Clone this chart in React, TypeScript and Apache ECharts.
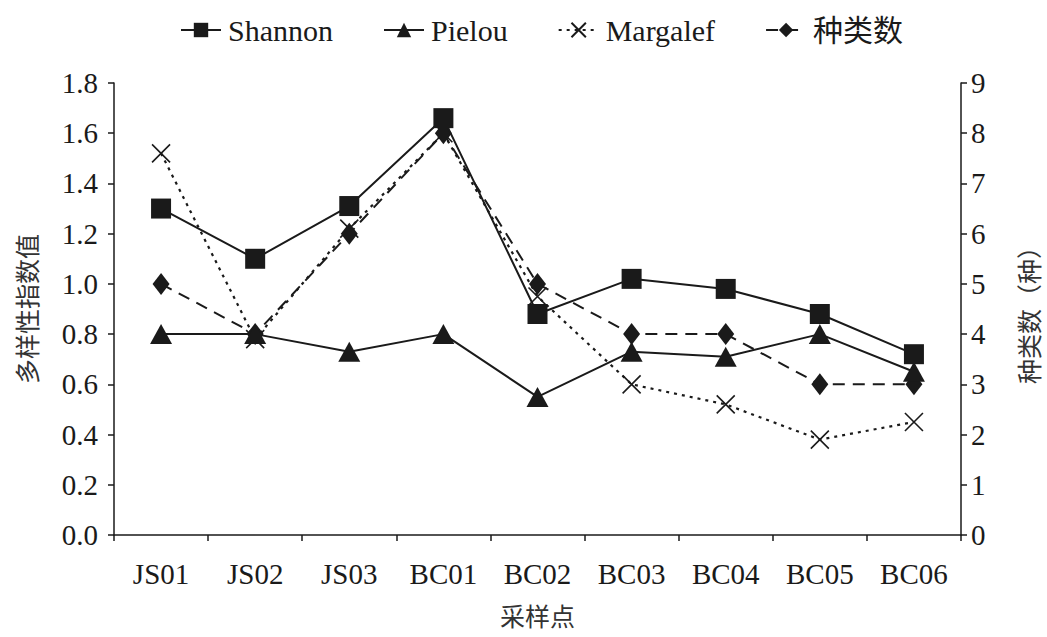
import React, { useEffect, useRef } from "react";
import * as echarts from "echarts";

const categories = ["JS01", "JS02", "JS03", "BC01", "BC02", "BC03", "BC04", "BC05", "BC06"];
const shannon = [1.3, 1.1, 1.31, 1.66, 0.88, 1.02, 0.98, 0.88, 0.72];
const pielou = [0.8, 0.8, 0.73, 0.8, 0.55, 0.73, 0.71, 0.8, 0.65];
const margalef = [1.52, 0.78, 1.22, 1.6, 0.95, 0.6, 0.52, 0.38, 0.45];
const species = [5, 4, 6, 8, 5, 4, 4, 3, 3];

const FONT = "'Liberation Serif', 'Noto Sans CJK SC', serif";
const INK = "#1a1a1a";

export default function App() {
  const ref = useRef<HTMLDivElement>(null);
  useEffect(() => {
    if (!ref.current) return;
    const chart = echarts.init(ref.current, undefined, { renderer: "svg" });
    const axisCommon = {
      axisLine: { show: true, lineStyle: { color: INK, width: 1.5 } },
      axisTick: { show: true, inside: false, length: 6, lineStyle: { color: INK, width: 1.5 } },
      splitLine: { show: false },
    };
    chart.setOption({
      animation: false,
      backgroundColor: "#ffffff",
      textStyle: { fontFamily: FONT, color: INK },
      legend: {
        top: 10,
        left: 175,
        itemWidth: 40,
        itemHeight: 18,
        itemGap: 50,
        textStyle: { fontFamily: FONT, fontSize: 30, color: INK, padding: [0, 0, 0, 2] },
        data: ["Shannon", "Pielou", "Margalef", "种类数"],
      },
      grid: {
        left: 114,
        right: 86,
        top: 83,
        bottom: 102,
        containLabel: false,
        outerBoundsMode: "none",
      },
      xAxis: {
        type: "category",
        data: categories,
        boundaryGap: true,
        ...axisCommon,
        axisTick: { show: true, alignWithLabel: false, length: 6, lineStyle: { color: INK, width: 1.5 } },
        axisLabel: { fontFamily: FONT, fontSize: 29, color: INK, margin: 24 },
        name: "采样点",
        nameLocation: "middle",
        nameGap: 70,
        nameTextStyle: { fontFamily: FONT, fontSize: 25, color: "#333" },
      },
      yAxis: [
        {
          type: "value",
          min: 0,
          max: 1.8,
          interval: 0.2,
          position: "left",
          ...axisCommon,
          axisLabel: {
            fontFamily: FONT,
            fontSize: 29,
            color: INK,
            margin: 16,
            formatter: (v: number) => v.toFixed(1),
          },
          name: "多样性指数值",
          nameLocation: "middle",
          nameGap: 73,
          nameRotate: 90,
          nameTextStyle: { fontFamily: FONT, fontSize: 25, color: "#333" },
        },
        {
          type: "value",
          min: 0,
          max: 9,
          interval: 1,
          position: "right",
          ...axisCommon,
          axisLabel: { fontFamily: FONT, fontSize: 29, color: INK, margin: 10 },
          name: "种类数（种）",
          nameLocation: "middle",
          nameGap: 57,
          nameRotate: 90,
          nameTextStyle: { fontFamily: FONT, fontSize: 25, color: "#333" },
        },
      ],
      series: [
        {
          name: "Margalef",
          type: "line",
          yAxisIndex: 0,
          data: margalef,
          symbol: "path://M0,0L10,10M10,0L0,10",
          symbolSize: 18,
          lineStyle: { color: INK, width: 2.2, type: [3, 5] },
          itemStyle: { color: "rgba(0,0,0,0)", borderColor: INK, borderWidth: 1.6 },
          z: 2,
        },
        {
          name: "种类数",
          type: "line",
          yAxisIndex: 1,
          data: species,
          symbol: "diamond",
          symbolSize: [17, 22],
          lineStyle: { color: INK, width: 2, type: [12, 8] },
          itemStyle: { color: INK },
          z: 3,
        },
        {
          name: "Pielou",
          type: "line",
          yAxisIndex: 0,
          data: pielou,
          symbol: "triangle",
          symbolSize: [22, 20],
          lineStyle: { color: INK, width: 2 },
          itemStyle: { color: INK },
          z: 4,
        },
        {
          name: "Shannon",
          type: "line",
          yAxisIndex: 0,
          data: shannon,
          symbol: "rect",
          symbolSize: 20,
          lineStyle: { color: INK, width: 2 },
          itemStyle: { color: INK },
          z: 5,
        },
      ],
    });
    return () => chart.dispose();
  }, []);
  return (
    <div
      ref={ref}
      style={{ position: "absolute", left: 0, top: 0, width: 1047, height: 637 }}
    />
  );
}
